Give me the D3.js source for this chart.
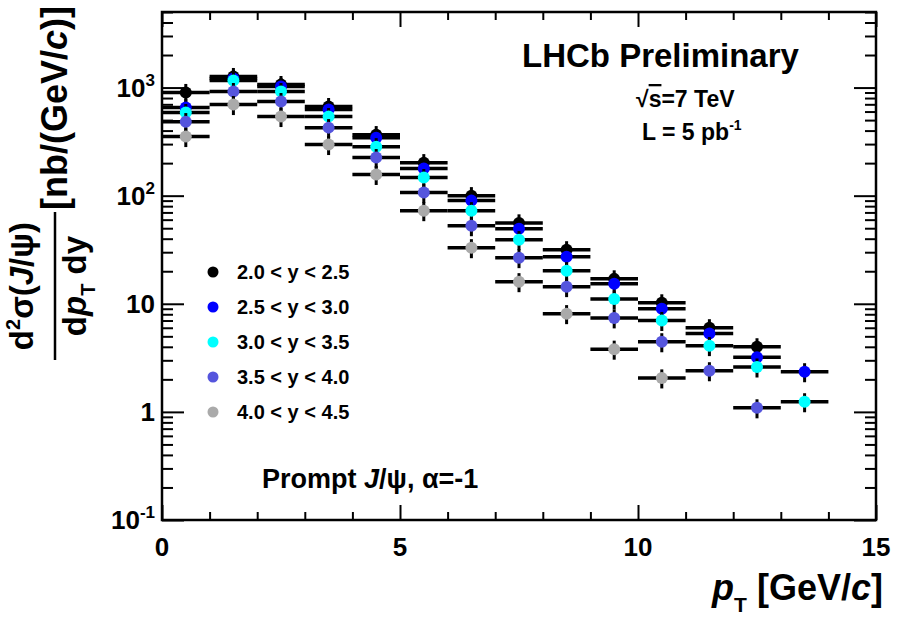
<!DOCTYPE html>
<html>
<head>
<meta charset="utf-8">
<script src="https://cdn.jsdelivr.net/npm/d3@7"></script>
<style>
  body { margin: 0; background: #fff; }
  svg { display: block; font-family: "Liberation Sans", Arial, sans-serif; font-weight: bold; }
</style>
</head>
<body>
<svg id="chart" width="903" height="620"></svg>
<script>
// pT bins (GeV/c), centre and half width
const ptCenters = [0.5, 1.5, 2.5, 3.5, 4.5, 5.5, 6.5, 7.5, 8.5, 9.5, 10.5, 11.5, 12.5, 13.5];
const binHalfWidth = 0.5;

// d2sigma/dpT dy [nb/(GeV/c)] per rapidity slice
const slice20to25 = [900, 1265, 1066, 667, 367, 202, 100, 56, 31.6, 17.0, 10.2, 6.0, 4.0];
const slice25to30 = [653, 1211, 1021, 626, 344, 178, 90, 49.5, 27.2, 15.3, 9.0, 5.3, 3.2, 2.35];
const slice30to35 = [587, 1161, 918, 539, 284, 147, 72.6, 39.2, 20.2, 11.1, 7.0, 4.1, 2.6, 1.24];
const slice35to40 = [484, 918, 742, 426, 225, 107, 52.7, 26.7, 14.4, 7.4, 4.45, 2.4, 1.09];
const slice40to45 = [352, 696, 539, 297, 157, 72.6, 33, 16.0, 8.1, 3.8, 2.06];
const relError = 0.2;

const sliceLabels = ['2.0 < y < 2.5', '2.5 < y < 3.0', '3.0 < y < 3.5', '3.5 < y < 4.0', '4.0 < y < 4.5'];
const sliceColors = ['#000000', '#0000ff', '#00ffff', '#5555dd', '#aaaaaa'];
const slices = [slice20to25, slice25to30, slice30to35, slice35to40, slice40to45];

const xTickValues = [0, 5, 10, 15];
const yTickLabels = [
  {v: 0.1, base: '10', sup: '-1'},
  {v: 1, base: '1', sup: ''},
  {v: 10, base: '10', sup: ''},
  {v: 100, base: '10', sup: '2'},
  {v: 1000, base: '10', sup: '3'}
];

const svg = d3.select('#chart');
const padLeft = 162, padRight = 876, padTop = 12, padBottom = 520;

const x = d3.scaleLinear().domain([0, 15]).range([padLeft, padRight]);
const y = d3.scaleLog().domain([0.1, 5000]).range([padBottom, padTop]);

// minor tick positions
const yMinor = [];
[0.1, 1, 10, 100, 1000].forEach((d) => {
  for (let k = 2; k <= 9; k++) if (d * k <= 5000) yMinor.push(d * k);
});
const xMinor = d3.range(0, 16).filter((d) => d % 5 !== 0);

const axisG = svg.append('g');
function tickAxis(axis, pos, values, size) {
  const g = axisG.append('g')
    .attr('transform', pos)
    .call(axis.tickValues(values).tickSize(size).tickFormat(''));
  g.select('.domain').remove();
  g.selectAll('line').attr('stroke', '#000').attr('stroke-width', 2);
}
tickAxis(d3.axisBottom(x), `translate(0,${padBottom})`, xTickValues, -15);
tickAxis(d3.axisBottom(x), `translate(0,${padBottom})`, xMinor, -8);
tickAxis(d3.axisTop(x), `translate(0,${padTop})`, xTickValues, -15);
tickAxis(d3.axisTop(x), `translate(0,${padTop})`, xMinor, -8);
tickAxis(d3.axisLeft(y), `translate(${padLeft},0)`, yTickLabels.map((d) => d.v), -22);
tickAxis(d3.axisLeft(y), `translate(${padLeft},0)`, yMinor, -11);
tickAxis(d3.axisRight(y), `translate(${padRight},0)`, yTickLabels.map((d) => d.v), -22);
tickAxis(d3.axisRight(y), `translate(${padRight},0)`, yMinor, -11);

// x tick labels
svg.append('g').selectAll('text')
  .data(xTickValues)
  .enter()
  .append('text')
  .attr('x', (d) => x(d))
  .attr('y', padBottom + 36)
  .attr('text-anchor', 'middle')
  .attr('font-size', 26)
  .text((d) => d);

// y tick labels with superscripts
const yl = svg.append('g').selectAll('text')
  .data(yTickLabels)
  .enter()
  .append('text')
  .attr('x', padLeft - 7)
  .attr('y', (d) => y(d.v) + 9)
  .attr('text-anchor', 'end')
  .attr('font-size', 26);
yl.append('tspan').text((d) => d.base);
yl.append('tspan')
  .attr('dy', -11)
  .attr('font-size', 17)
  .text((d) => d.sup);

// data: per slice, error bars then markers
const dataG = svg.append('g');
slices.forEach((vals, i) => {
  const pts = vals.map((v, j) => ({pt: ptCenters[j], v: v}));
  const g = dataG.append('g');
  g.selectAll('.xerr')
    .data(pts)
    .enter()
    .append('line')
    .attr('x1', (d) => x(d.pt - binHalfWidth))
    .attr('x2', (d) => x(d.pt + binHalfWidth))
    .attr('y1', (d) => y(d.v))
    .attr('y2', (d) => y(d.v))
    .attr('stroke', '#000')
    .attr('stroke-width', 3.5);
  g.selectAll('.yerr')
    .data(pts)
    .enter()
    .append('line')
    .attr('x1', (d) => x(d.pt))
    .attr('x2', (d) => x(d.pt))
    .attr('y1', (d) => y(d.v * (1 + relError)))
    .attr('y2', (d) => y(d.v * (1 - relError)))
    .attr('stroke', '#000')
    .attr('stroke-width', 3);
  g.selectAll('circle')
    .data(pts)
    .enter()
    .append('circle')
    .attr('cx', (d) => x(d.pt))
    .attr('cy', (d) => y(d.v))
    .attr('r', 6)
    .attr('fill', sliceColors[i]);
});

// frame
svg.append('rect')
  .attr('x', padLeft)
  .attr('y', padTop)
  .attr('width', padRight - padLeft)
  .attr('height', padBottom - padTop)
  .attr('fill', 'none')
  .attr('stroke', '#000')
  .attr('stroke-width', 2.5);

// legend
const legend = svg.append('g').selectAll('g')
  .data(sliceLabels)
  .enter()
  .append('g')
  .attr('transform', (d, i) => `translate(213,${272 + i * 35})`);
legend.append('circle')
  .attr('r', 5.5)
  .attr('fill', (d, i) => sliceColors[i]);
legend.append('text')
  .attr('x', 24)
  .attr('y', 7)
  .attr('font-size', 20)
  .text((d) => d);

// annotations
svg.append('text')
  .attr('x', 522)
  .attr('y', 67)
  .attr('font-size', 33)
  .text('LHCb Preliminary');

const sq = svg.append('text')
  .attr('x', 636)
  .attr('y', 107)
  .attr('font-size', 23);
sq.append('tspan').text('√');
sq.append('tspan').attr('text-decoration', 'overline').text('s');
sq.append('tspan').text('=7 TeV');

const lum = svg.append('text')
  .attr('x', 642)
  .attr('y', 140)
  .attr('font-size', 23);
lum.append('tspan').text('L = 5 pb');
lum.append('tspan').attr('dy', -10).attr('font-size', 14).text('-1');

const prompt = svg.append('text')
  .attr('x', 262)
  .attr('y', 488)
  .attr('font-size', 27);
prompt.append('tspan').text('Prompt ');
prompt.append('tspan').attr('font-style', 'italic').text('J');
prompt.append('tspan').text('/ψ, α=-1');

// x axis title
const xt = svg.append('text')
  .attr('x', 883)
  .attr('y', 600)
  .attr('text-anchor', 'end')
  .attr('font-size', 36);
xt.append('tspan').attr('font-style', 'italic').text('p');
xt.append('tspan').attr('dy', 12).attr('font-size', 21).text('T');
xt.append('tspan').attr('dy', -12).text(' [GeV/');
xt.append('tspan').attr('font-style', 'italic').text('c');
xt.append('tspan').text(']');

// y axis title (rotated fraction)
const yt = svg.append('g').attr('transform', 'translate(0,365) rotate(-90)');
const num = yt.append('text')
  .attr('x', 79)
  .attr('y', 33)
  .attr('text-anchor', 'middle')
  .attr('font-size', 33);
num.append('tspan').text('d');
num.append('tspan').attr('dy', -13).attr('font-size', 20).text('2');
num.append('tspan').attr('dy', 13).text('σ(');
num.append('tspan').attr('font-style', 'italic').text('J');
num.append('tspan').text('/ψ)');
yt.append('line')
  .attr('x1', 5)
  .attr('x2', 153)
  .attr('y1', 55)
  .attr('y2', 55)
  .attr('stroke', '#000')
  .attr('stroke-width', 2.5);
const den = yt.append('text')
  .attr('x', 79)
  .attr('y', 86)
  .attr('text-anchor', 'middle')
  .attr('font-size', 33);
den.append('tspan').text('d');
den.append('tspan').attr('font-style', 'italic').text('p');
den.append('tspan').attr('dy', 9).attr('font-size', 20).text('T');
den.append('tspan').attr('dy', -9).text(' dy');
const unit = yt.append('text')
  .attr('x', 257)
  .attr('y', 67)
  .attr('text-anchor', 'middle')
  .attr('font-size', 36);
unit.append('tspan').text('[nb/(GeV/');
unit.append('tspan').attr('font-style', 'italic').text('c');
unit.append('tspan').text(')]');
</script>
</body>
</html>
